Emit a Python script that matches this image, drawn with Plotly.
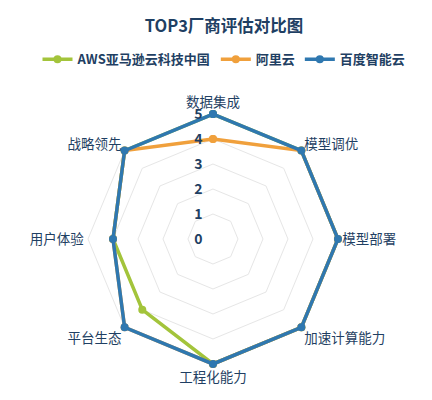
import plotly.graph_objects as go

# ---- data ----
dimensions = ["数据集成", "模型调优", "模型部署", "加速计算能力",
              "工程化能力", "平台生态", "用户体验", "战略领先"]
aws_scores = [5, 5, 5, 5, 5, 4, 4, 5]
ali_scores = [4, 5, 5, 5, 5, 5, 4, 5]
baidu_scores = [5, 5, 5, 5, 5, 5, 4, 5]
score_ticks = [0, 1, 2, 3, 4, 5]

series = [
    ("AWS亚马逊云科技中国", aws_scores, "#a3c43b"),
    ("阿里云", ali_scores, "#f0a03c"),
    ("百度智能云", baidu_scores, "#2f78b0"),
]

FONT = "Noto Sans CJK SC"
NAVY = "#1f3f63"

fig = go.Figure()
for name, vals, color in series:
    # close the polygon
    fig.add_trace(go.Scatterpolar(
        r=vals + vals[:1],
        theta=dimensions + dimensions[:1],
        mode="lines+markers",
        name="<b>" + name + "</b>",
        line=dict(color=color, width=3.5),
        marker=dict(color=color, size=8),
        cliponaxis=False,
    ))

fig.update_layout(
    width=432, height=400,
    margin=dict(l=0, r=0, t=0, b=0),
    paper_bgcolor="white",
    font=dict(family=FONT, color=NAVY, size=12),
    title=dict(text="<b>TOP3厂商评估对比图</b>", x=0.5, xanchor="center",
               y=0.955, yanchor="middle", font=dict(size=16.5, color=NAVY)),
    legend=dict(orientation="h", x=0.5, xanchor="center", y=0.872, yanchor="middle",
                font=dict(size=13, color=NAVY), itemwidth=30, tracegroupgap=0),
    polar=dict(
        # range a bit past 5 so the outer lines aren't clipped in half
        domain=dict(x=[0.1765, 0.7725], y=[0.1006, 0.7444]),
        bgcolor="white",
        gridshape="linear",
        angularaxis=dict(direction="clockwise", rotation=90,
                         showline=False, showgrid=False, ticks="",
                         tickfont=dict(size=13.5, color=NAVY)),
        radialaxis=dict(range=[0, 5.15], tickvals=score_ticks,
                        ticktext=["<b>%d</b>" % t for t in score_ticks],
                        angle=90, tickangle=90, side="counterclockwise",
                        showline=False, ticks="outside", ticklen=5,
                        tickcolor="rgba(0,0,0,0)", gridcolor="#e6e6e6",
                        tickfont=dict(size=14, color=NAVY)),
    ),
)

fig.write_html("out.html")
